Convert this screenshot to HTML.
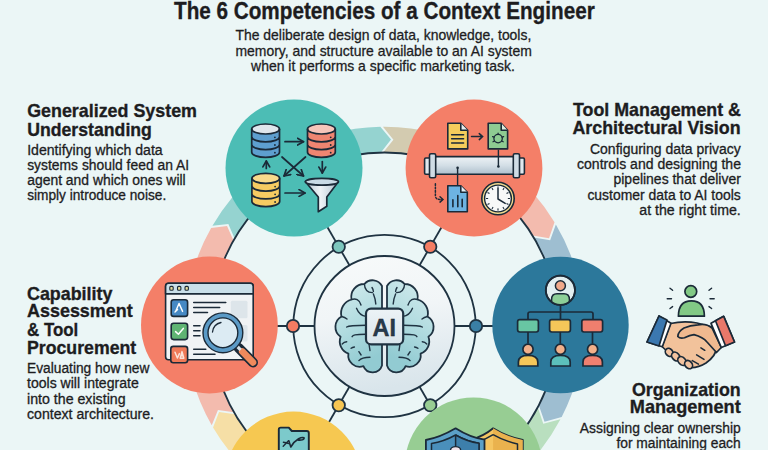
<!DOCTYPE html>
<html><head><meta charset="utf-8">
<style>
html,body{margin:0;padding:0;width:768px;height:450px;overflow:hidden;background:#ebf6f6;}
svg{display:block;}
text{font-family:"Liberation Sans",sans-serif;fill:#1d1d1f;}
.h{font-weight:bold;}
.b text{stroke:#1d1d1f;stroke-width:0.3px;}
.h text, text.h{stroke:#1d1d1f;stroke-width:0.35px;}
</style></head><body>
<svg width="768" height="450" viewBox="0 0 768 450">
<defs>
<linearGradient id="inner" x1="0" y1="0" x2="0.15" y2="1"><stop offset="0" stop-color="#f7fafa"/><stop offset="0.45" stop-color="#f1f5f7"/><stop offset="1" stop-color="#d9e5eb"/></linearGradient>
</defs>
<rect width="768" height="450" fill="#ebf6f6"/>
<!-- bands -->
<path d="M382.94,126.81 A199.2,199.2 0 0 1 484.10,153.49 L471.25,175.74 A173.5,173.5 0 0 0 383.14,152.51 L393.45,139.71 Z" fill="#d3cbb0"/>
<path d="M284.90,153.49 A199.2,199.2 0 0 1 380.33,126.84 L391.01,139.61 L380.87,152.54 A173.5,173.5 0 0 0 297.75,175.74 Z" fill="#95d3d0"/>
<path d="M555.87,224.45 A199.2,199.2 0 0 1 583.70,326.00 L558.00,326.00 A173.5,173.5 0 0 0 533.76,237.55 L550.15,240.32 Z" fill="#9ebed1"/>
<path d="M484.10,153.49 A199.2,199.2 0 0 1 554.53,222.21 L549.02,238.16 L532.59,235.60 A173.5,173.5 0 0 0 471.25,175.74 Z" fill="#f3bbae"/>
<path d="M560.46,419.37 A199.2,199.2 0 0 1 484.10,498.51 L471.25,476.26 A173.5,173.5 0 0 0 537.76,407.32 L543.26,423.86 Z" fill="#b9dfbf"/>
<path d="M583.70,326.00 A199.2,199.2 0 0 1 561.67,417.05 L544.53,421.78 L538.81,405.31 A173.5,173.5 0 0 0 558.00,326.00 Z" fill="#9ebed1"/>
<path d="M387.11,525.18 A199.2,199.2 0 0 1 284.90,498.51 L297.75,476.26 A173.5,173.5 0 0 0 386.77,499.49 L376.20,512.32 Z" fill="#f6dfa6"/>
<path d="M484.10,498.51 A199.2,199.2 0 0 1 389.71,525.13 L378.64,512.41 L389.04,499.44 A173.5,173.5 0 0 0 471.25,476.26 Z" fill="#b9dfbf"/>
<path d="M211.73,425.15 A199.2,199.2 0 0 1 185.30,326.00 L211.00,326.00 A173.5,173.5 0 0 0 234.02,412.36 L217.96,409.94 Z" fill="#f3bbae"/>
<path d="M284.90,498.51 A199.2,199.2 0 0 1 213.04,427.40 L219.07,412.12 L235.16,414.32 A173.5,173.5 0 0 0 297.75,476.26 Z" fill="#f6dfa6"/>
<path d="M212.42,225.65 A199.2,199.2 0 0 1 284.90,153.49 L297.75,175.74 A173.5,173.5 0 0 0 234.62,238.60 L228.35,224.02 Z" fill="#95d3d0"/>
<path d="M185.30,326.00 A199.2,199.2 0 0 1 211.13,227.91 L227.03,226.07 L233.49,240.56 A173.5,173.5 0 0 0 211.00,326.00 Z" fill="#f3bbae"/>
<!-- outer thin ring -->
<circle cx="384.5" cy="326" r="173.5" fill="none" stroke="#1f3342" stroke-width="1.8"/>
<!-- spokes -->
<g stroke="#1f3342" stroke-width="1.8">
<line x1="350.00" y1="266.24" x2="322.00" y2="217.75"/>
<line x1="419.00" y1="266.24" x2="447.00" y2="217.75"/>
<line x1="315.50" y1="326.00" x2="259.50" y2="326.00"/>
<line x1="453.50" y1="326.00" x2="509.50" y2="326.00"/>
<line x1="350.00" y1="385.76" x2="322.00" y2="434.25"/>
<line x1="419.00" y1="385.76" x2="447.00" y2="434.25"/>
</g>
<circle cx="384.5" cy="326" r="91.2" fill="none" stroke="#1f3342" stroke-width="1.8"/>
<circle cx="384.5" cy="326" r="70" fill="url(#inner)" stroke="#1f3342" stroke-width="1.8"/>
<g stroke="#1f3342" stroke-width="1.8">
<circle cx="338.75" cy="246.76" r="6.2" fill="#7cc6bd"/>
<circle cx="430.25" cy="246.76" r="6.2" fill="#f47c62"/>
<circle cx="293.00" cy="326.00" r="6.2" fill="#f47c62"/>
<circle cx="476.00" cy="326.00" r="6.2" fill="#3a7fa5"/>
<circle cx="338.75" cy="405.24" r="6.2" fill="#f6c552"/>
<circle cx="430.25" cy="405.24" r="6.2" fill="#98cd93"/>
</g>
<!-- colored circles -->
<circle cx="294" cy="168" r="68.5" fill="#4cbdb5"/>
<circle cx="474" cy="168" r="68.4" fill="#f47f68"/>
<circle cx="209.4" cy="325" r="68.4" fill="#f47f68"/>
<circle cx="560.5" cy="325" r="68.2" fill="#2c789b"/>
<circle cx="293.5" cy="480" r="68.4" fill="#f6c851"/>
<circle cx="473.5" cy="466" r="68.6" fill="#97cd93"/>


<!-- ICON1 teal circle: databases -->
<defs>
<marker id="ah" viewBox="0 0 10 10" refX="8" refY="5" markerWidth="5" markerHeight="5" orient="auto-start-reverse"><path d="M1,1 L8,5 L1,9" fill="none" stroke="#1b2a38" stroke-width="2" stroke-linecap="round" stroke-linejoin="round"/></marker>
<g id="db">
<path d="M-13.9,0 V23.3 A13.9,5 0 0 0 13.9,23.3 V0 Z" fill="currentColor"/>
<ellipse cx="0" cy="0" rx="13.9" ry="5"/>
<path d="M-13.9,0 V23.3 A13.9,5 0 0 0 13.9,23.3 V0 M-13.9,7.8 A13.9,5 0 0 0 13.9,7.8 M-13.9,15.6 A13.9,5 0 0 0 13.9,15.6" fill="none" stroke="#1b2a38" stroke-width="1.7"/>
<ellipse cx="0" cy="0" rx="13.9" ry="5" fill="none" stroke="#1b2a38" stroke-width="1.7"/>
<circle cx="9.3" cy="8.3" r="0.9" fill="#1b2a38"/><circle cx="9.3" cy="16" r="0.9" fill="#1b2a38"/><circle cx="9.3" cy="23.7" r="0.9" fill="#1b2a38"/>
</g>
<linearGradient id="fun" x1="0" y1="0" x2="1" y2="0"><stop offset="0" stop-color="#b9cad6"/><stop offset="0.45" stop-color="#eef3f6"/><stop offset="1" stop-color="#b4c6d3"/></linearGradient>
</defs>
<use href="#db" x="265.6" y="129" style="color:#5e9fcf" fill="#dfe6ec"/>
<use href="#db" x="321.4" y="129" style="color:#ef8571" fill="#f6c5ba"/>
<use href="#db" x="265.8" y="178.3" style="color:#f6cb62" fill="#f8da8c"/>
<g stroke="#1b2a38" stroke-width="1.7" fill="none" stroke-linecap="round">
<line x1="285" y1="141.7" x2="303.5" y2="141.7" marker-end="url(#ah)"/>
<line x1="322.3" y1="161.5" x2="322.3" y2="173" marker-end="url(#ah)"/>
<line x1="266.3" y1="168.5" x2="266.3" y2="161" marker-end="url(#ah)"/>
<line x1="285" y1="193" x2="305" y2="193" marker-end="url(#ah)"/>
<line x1="282" y1="157" x2="303.5" y2="176" marker-end="url(#ah)"/>
<line x1="305.5" y1="157" x2="284" y2="176" marker-end="url(#ah)"/>
</g>
<path d="M305.4,181.7 L318.3,197 V211.7 L326.8,206.3 V197 L338.3,181.7 Z" fill="url(#fun)" stroke="#1b2a38" stroke-width="1.7" stroke-linejoin="round"/>
<ellipse cx="321.9" cy="181.7" rx="16.5" ry="3.4" fill="#c9dbe6" stroke="#1b2a38" stroke-width="1.7"/>


<!-- ICON2 orange circle: pipeline -->
<defs>
<linearGradient id="pipe" x1="0" y1="0" x2="0" y2="1"><stop offset="0" stop-color="#eef3f6"/><stop offset="0.5" stop-color="#d3dee6"/><stop offset="1" stop-color="#aebfcc"/></linearGradient>
</defs>
<g stroke="#1b2a38" stroke-width="1.6" stroke-linejoin="round">
<path d="M447.8,123.2 H460.8 L467.7,130.2 V148.9 H447.8 Z" fill="#f5cd5c"/>
<path d="M460.8,123.2 V130.2 H467.7" fill="#e8eef0"/>
<path d="M488.2,123.2 H501.2 L507.6,130.2 V148.9 H488.2 Z" fill="#8ecb92"/>
<path d="M501.2,123.2 V130.2 H507.6" fill="#dfeee0"/>
<path d="M447.8,185.8 H460.8 L467.3,192.3 V211.8 H447.8 Z" fill="#6db3e2"/>
<path d="M460.8,185.8 V192.3 H467.3" fill="#e3eef6"/>
</g>
<g stroke="#1b2a38" stroke-width="1.5" fill="none" stroke-linecap="round">
<path d="M451.6,134.8 H463.6 M451.6,138.7 H463.6 M451.6,142.9 H463.6"/>
<path d="M471.5,136.6 H482.5 M479.3,133.6 L482.6,136.6 L479.3,139.6"/>
<circle cx="498.1" cy="138.6" r="4.2" stroke-width="1.3"/>
<path d="M498.1,133.2 V134.4 M492.6,136.6 L494.1,137.2 M503.6,136.6 L502.1,137.2 M493,141.8 L494.4,141 M503.2,141.8 L501.8,141" stroke-width="1.3"/>
<path d="M452.9,206.8 V199.8 M457.8,206.8 V195.6 M462.2,206.8 V199.2" stroke-width="1.6"/>
<path d="M435.4,183.8 V195.5 Q435.4,199.4 439.5,199.4 H442.6" stroke-dasharray="1.6 1.8"/>
<path d="M440,196.7 L442.9,199.4 L440,202.1"/>
</g>
<!-- pipe -->
<g stroke="#1b2a38" stroke-width="1.6">
<rect x="434.5" y="156.6" width="80" height="17.7" rx="2" fill="url(#pipe)"/>
<rect x="424.6" y="158" width="5.6" height="16.2" rx="1.2" fill="#dfe8ee"/>
<rect x="518.8" y="158" width="5.6" height="16.2" rx="1.2" fill="#dfe8ee"/>
<rect x="429.5" y="153.8" width="6.2" height="24" rx="1.5" fill="#cfdce5"/>
<rect x="513.3" y="153.8" width="6.2" height="24" rx="1.5" fill="#cfdce5"/>
</g>
<path d="M498.4,149.7 V166.4 M457.6,168 V185.5" stroke="#1b2a38" stroke-width="1.4"/>
<circle cx="498.4" cy="166.5" r="1.3" fill="#1b2a38"/>
<circle cx="457.6" cy="167.8" r="1.3" fill="#1b2a38"/>
<!-- clock -->
<circle cx="498" cy="198.5" r="16.2" fill="#f2d98e" stroke="#1b2a38" stroke-width="1.6"/>
<circle cx="498" cy="198.5" r="13.4" fill="#f7f8f8" stroke="#1b2a38" stroke-width="1.4"/>
<g stroke="#1b2a38" stroke-width="1.1" stroke-linecap="round">
<line x1="498.00" y1="188.20" x2="498.00" y2="186.90"/>
<line x1="503.15" y1="189.58" x2="503.80" y2="188.45"/>
<line x1="506.92" y1="193.35" x2="508.05" y2="192.70"/>
<line x1="508.30" y1="198.50" x2="509.60" y2="198.50"/>
<line x1="506.92" y1="203.65" x2="508.05" y2="204.30"/>
<line x1="503.15" y1="207.42" x2="503.80" y2="208.55"/>
<line x1="498.00" y1="208.80" x2="498.00" y2="210.10"/>
<line x1="492.85" y1="207.42" x2="492.20" y2="208.55"/>
<line x1="489.08" y1="203.65" x2="487.95" y2="204.30"/>
<line x1="487.70" y1="198.50" x2="486.40" y2="198.50"/>
<line x1="489.08" y1="193.35" x2="487.95" y2="192.70"/>
<line x1="492.85" y1="189.58" x2="492.20" y2="188.45"/>
</g>
<path d="M498,188.8 V199 L505.2,203.4" fill="none" stroke="#1b2a38" stroke-width="1.5" stroke-linecap="round" stroke-linejoin="round"/>


<!-- ICON3 coral circle: browser + magnifier -->
<g stroke="#1b2a38" stroke-width="1.6" stroke-linejoin="round">
<rect x="165.6" y="283.2" width="87.6" height="76.6" rx="3" fill="#f0f3f5"/>
<path d="M165.6,293.9 V286.2 Q165.6,283.2 168.6,283.2 H250.2 Q253.2,283.2 253.2,286.2 V293.9 Z" fill="#c9dfe9"/>
<rect x="169.8" y="286.4" width="3.4" height="3.8" rx="1" fill="#e6dc9c" stroke-width="1.1"/>
<rect x="177.5" y="286.4" width="3.4" height="3.8" rx="1" fill="#e6dc9c" stroke-width="1.1"/>
<rect x="185" y="286.4" width="3.4" height="3.8" rx="1" fill="#e6dc9c" stroke-width="1.1"/>
<rect x="171.2" y="299.8" width="16.4" height="16.6" rx="2.5" fill="#4689c4"/>
<rect x="171.2" y="323.2" width="16.4" height="16.4" rx="2.5" fill="#5fb473"/>
<rect x="170.8" y="346.4" width="16.8" height="16.4" rx="2.5" fill="#ef7a58"/>
</g>
<g fill="none" stroke="#ffffff" stroke-width="1.5" stroke-linecap="round" stroke-linejoin="round">
<path d="M175.6,311.6 L179,303.4 L182.6,311.4 M175,312 L177.6,309.6" stroke-width="1.4"/>
<path d="M175.6,331.6 L178.4,334.2 L183.3,328.4"/>
<path d="M175,352.2 L177.4,358 L179.4,353.6 M180.2,358.2 L182,351.6 L183.8,358.2 Z M181,355.8 H183" stroke="#fbe2d8" stroke-width="1.5"/>
</g>
<rect x="230.8" y="300.8" width="16.7" height="17.5" rx="1.5" fill="#dde5ea"/>
<rect x="238" y="325" width="9.5" height="16.5" rx="1.5" fill="#dde5ea"/>
<g stroke="#1b2a38" stroke-width="1.5" stroke-linecap="round">
<path d="M193.7,302.6 H225.8 M193.7,307.6 H219.7 M193.7,312.6 H207.5 M193.7,325.8 H200 M193.7,330.8 H200 M193.7,335.8 H200 M193.7,349.2 H205.8 M193.7,354.2 H215"/>
</g>
<!-- magnifier -->
<path d="M238.5,347.7 L253,362.4" stroke="#1b2a38" stroke-width="10" stroke-linecap="round"/>
<path d="M242.2,351.4 L253,362.4" stroke="#ef8a5c" stroke-width="6.6" stroke-linecap="round"/>
<path d="M236.8,346 L240.6,349.8" stroke="#d9e4ea" stroke-width="3.2" />
<circle cx="222.9" cy="332.8" r="17.4" fill="#dcebf3" stroke="#1b2a38" stroke-width="6.4"/>
<circle cx="222.9" cy="332.8" r="17.4" fill="none" stroke="#5b9ac6" stroke-width="3.6"/>
<path d="M212.5,332 A11,11 0 0 1 221,322.5" fill="none" stroke="#1b2a38" stroke-width="1.3" stroke-linecap="round"/>


<!-- ICON4 blue circle: org chart -->
<defs><clipPath id="avc"><circle cx="560.4" cy="290.2" r="14.6"/></clipPath></defs>
<g stroke="#1b2a38" stroke-width="1.7" fill="none" stroke-linejoin="round">
<path d="M560.5,305.6 V312 M528,319.3 V314 Q528,312 530,312 H591 Q593,312 593,314 V319.3 M560.5,312 V319.3 M528,332 V343.5 M560.3,332 V343.5 M592.5,332 V343.5"/>
</g>
<circle cx="560.4" cy="290.2" r="14.6" fill="#e2eef0" stroke="#1b2a38" stroke-width="1.8"/>
<g clip-path="url(#avc)" stroke="#1b2a38" stroke-width="1.5">
<path d="M551.6,306 V299.5 Q551.6,293.8 557,293.8 H564 Q569.4,293.8 569.4,299.5 V306 Z" fill="#8dcf98"/>
</g>
<circle cx="560.4" cy="290.2" r="14.6" fill="none" stroke="#1b2a38" stroke-width="1.8"/>
<circle cx="560.4" cy="285.8" r="5" fill="#f0a88a" stroke="#1b2a38" stroke-width="1.5"/>
<g stroke="#1b2a38" stroke-width="1.7">
<rect x="517.6" y="319.6" width="20.8" height="12.4" rx="2.2" fill="#68c6a3"/>
<rect x="549.6" y="319.6" width="20.8" height="12.4" rx="2.2" fill="#f5c659"/>
<rect x="581.8" y="319.6" width="20.8" height="12.4" rx="2.2" fill="#ef7f6e"/>
<path d="M518.4,366 V362 Q518.4,355.3 528,355.3 Q537.8,355.3 537.8,362 V366 Z" fill="#f5c659"/>
<path d="M550.8,366 V362 Q550.8,355.3 560.4,355.3 Q570.2,355.3 570.2,362 V366 Z" fill="#5cc0bb"/>
<path d="M583,366 V362 Q583,355.3 592.6,355.3 Q602.4,355.3 602.4,362 V366 Z" fill="#ef8070"/>
<circle cx="528" cy="349.2" r="5.1" fill="#f2b08a"/>
<circle cx="560.4" cy="349.2" r="5.1" fill="#f2b08a"/>
<circle cx="592.6" cy="349.2" r="5.1" fill="#f2b08a"/>
</g>


<!-- ICON5 yellow circle: folder -->
<path d="M278.8,452 V429.5 Q278.8,427.6 280.7,427.6 H288.8 L291.8,431 H306.8 Q308.8,431 308.8,433 V452 Z" fill="#7ccacb" stroke="#1b2a38" stroke-width="1.9" stroke-linejoin="round"/>
<g fill="none" stroke="#1b2a38" stroke-width="1.4" stroke-linecap="round" stroke-linejoin="round">
<path d="M283.4,442.3 Q286,442.6 288.6,443.6 M283.2,446.2 Q286,443.5 288.5,440.8"/>
<path d="M288.8,440.8 Q289.8,444 290.8,447 Q294,441.5 298.6,438.8 Q302,437 304,437.8 Q304.4,439.2 302.4,439.8 Q300,440.4 297.8,440" stroke-width="1.6"/>
</g>
<!-- ICON6 green circle: shields -->
<g stroke="#1b2a38" stroke-width="1.8" stroke-linejoin="round">
<path d="M493.1,428.3 Q484,436 471,439.8 L471,452 H522.8 V440 Q505,436 493.1,428.3 Z" fill="#f5c562"/>
<path d="M493.1,428.3 Q505,436 522.8,440 V452 H493.1 Z" fill="#eab24e" stroke="none"/>
<path d="M493.1,434.6 Q503,440.5 517.5,444 V452 M493.1,434.6 Q486,439 478,442" fill="none" stroke-width="1.5"/>
<path d="M455.6,428.3 Q440,437.5 425.9,440 V452 H484.5 V439.7 Q470,437.5 455.6,428.3 Z" fill="#5ba0c8"/>
<path d="M455.6,435 Q444,441.5 431.5,443.5 V452 H479 V443.3 Q467,441.5 455.6,435 Z" fill="#4a8fbb" stroke-width="1.5"/>
<path d="M455.6,435 Q467,441.5 479,443.3 V452 H455.6 Z" fill="#3d7fab" stroke="none"/>
<path d="M455.6,435 Q467,441.5 479,443.3 V452 M455.6,435 V452" fill="none" stroke-width="1.5"/>
<ellipse cx="455.6" cy="449.8" rx="5" ry="3.2" fill="#f3e4ea" stroke-width="1.4"/>
</g>


<!-- BRAIN -->
<defs>
<linearGradient id="brainG" x1="0" y1="0" x2="0.3" y2="1"><stop offset="0" stop-color="#d6ecee"/><stop offset="0.55" stop-color="#b2dce0"/><stop offset="1" stop-color="#92cbd2"/></linearGradient>
<linearGradient id="aiG" x1="0" y1="0" x2="0" y2="1"><stop offset="0" stop-color="#edf3f6"/><stop offset="1" stop-color="#d9e5ec"/></linearGradient>
<g id="hemi">
<path d="M382,286 A10.7,10.7 0 0 0 364.4,284 A13,13 0 0 0 351.5,299.5 A14,14 0 0 0 341.5,316.5 A12,12 0 0 0 340.6,336.8 A13,13 0 0 0 348.4,353.6 A11.5,11.5 0 0 0 363.4,366.2 A9.9,9.9 0 0 0 382,365.5 Z" fill="url(#brainG)" stroke="#1f3342" stroke-width="1.8" stroke-linejoin="round"/>
<g fill="none" stroke="#1f3342" stroke-width="1.4" stroke-linecap="round">
<path d="M364.4,284 C364.6,289 367.5,292.5 372.4,292.6"/>
<path d="M372,287.5 Q373.3,289.5 373.4,291.5"/>
<path d="M373.4,294 Q375.5,299 375.8,304"/>
<path d="M351.5,299.5 C355.5,298 359.5,299.5 361,305"/>
<path d="M356.5,308.3 C358,312 361.5,316 366,316.4"/>
<path d="M341.5,316.5 C343.5,317 345.5,317.8 347,319"/>
<path d="M346.7,327 C348.5,325.8 351,325.3 366,325.3"/>
<path d="M352.1,336.7 C353,335 354.5,334.2 366,334.2"/>
<path d="M342.2,343.9 C343.5,342.5 345,341.8 346.7,341.7"/>
<path d="M351.1,348.3 Q352.5,347.2 354.4,347"/>
<path d="M358.9,351.7 L361.1,355"/>
<path d="M358.9,360.6 C360.5,358.8 364,357.3 370,357.2"/>
<path d="M369,344 L370,350.6"/>
</g>
</g>
</defs>
<use href="#hemi"/>
<use href="#hemi" transform="translate(769,0) scale(-1,1)"/>


<!-- HANDSHAKE -->
<g stroke="#1b2a38" stroke-linecap="round" stroke-linejoin="round">
<!-- person -->
<path d="M678.4,316.2 C678.4,305.5 683.5,300.8 691.4,300.8 C699.3,300.8 704.4,305.5 704.4,316.2 Z" fill="#82c985" stroke-width="1.7"/>
<circle cx="690.8" cy="291.5" r="5.9" fill="#82c985" stroke-width="1.7"/>
<g stroke-width="1.4" fill="none">
<path d="M670,288.3 L672.6,290.3 M667.2,298.8 H671.5 M670,308.5 L672.6,306.6 M711.6,288.3 L709,290.3 M714.2,298.8 H710 M711.6,308.5 L709,306.6"/>
</g>
<!-- back hand (left) -->
<path d="M670.5,323.5 Q684,320.5 697,323 L712,327 Q716,335 717.5,346 Q716,356 706,363 Q698,368 690,367.5 L672,356 L662,346.5 Z" fill="#f2c29b" stroke-width="1.7"/>
<!-- fingers -->
<g fill="#f3c3a0" stroke-width="1.7">
<ellipse cx="669.2" cy="352.4" rx="4.4" ry="3.5" transform="rotate(50 669.2 352.4)"/>
<ellipse cx="675.8" cy="356.6" rx="4.9" ry="3.6" transform="rotate(50 675.8 356.6)"/>
<ellipse cx="682" cy="361" rx="4.9" ry="3.6" transform="rotate(50 682 361)"/>
<ellipse cx="688.6" cy="364.6" rx="4.5" ry="3.5" transform="rotate(50 688.6 364.6)"/>
</g>
<!-- front hand (right) -->
<path d="M721.3,347.5 L712,328 Q706,323 698,324.9 Q690,325.5 684,328 Q678,331.5 677.8,336.5 Q680,339 684.5,337.8 Q690,335 694,334.6 Q703,337 707,342 L716.5,352.5 Z" fill="#f0b98f" stroke-width="1.7"/>
<path d="M700.9,347.8 L704.8,350.3 M696.6,354.8 L704,359.4 M692.3,360.6 L698.5,364.1" stroke-width="1.5" fill="none"/>
<!-- cuffs -->
<path d="M659,316 L671,323.3 L662.3,346.7 L647,342 Z" fill="#ffffff" stroke-width="1.7"/>
<path d="M659,316 L667,320 L659,346 L647,342 Z" fill="#3b78b0" stroke-width="1.7"/>
<path d="M711,323.3 L723.7,316.3 L734.5,342 L721.3,347.5 Z" fill="#ffffff" stroke-width="1.7"/>
<path d="M715.5,320.8 L723.7,316.3 L734.5,342 L725.5,345.7 Z" fill="#e9786a" stroke-width="1.7"/>
</g>

<!-- AI box -->
<rect x="366" y="308.6" width="37.2" height="35.7" rx="5" fill="url(#aiG)" stroke="#1f3342" stroke-width="2.2"/>
<text class="h" x="372.6" y="335.6" font-size="23.5" textLength="23.4" lengthAdjust="spacingAndGlyphs" style="fill:#263b4e">AI</text>

<!-- text -->
<text class="h" x="174" y="18.7" font-size="24" textLength="420.7" lengthAdjust="spacingAndGlyphs">The 6 Competencies of a Context Engineer</text>
<g font-size="15" class="b">
<text x="235.5" y="39.6" textLength="295.8" lengthAdjust="spacingAndGlyphs">The deliberate design of data, knowledge, tools,</text>
<text x="235.5" y="55.5" textLength="296.3" lengthAdjust="spacingAndGlyphs">memory, and structure available to an AI system</text>
<text x="251.1" y="70.5" textLength="263.7" lengthAdjust="spacingAndGlyphs">when it performs a specific marketing task.</text>
</g>

<g class="h" font-size="19" font-weight="bold">
<text x="27.2" y="116.6" textLength="169.8" lengthAdjust="spacingAndGlyphs">Generalized System</text>
<text x="27.2" y="135.8" textLength="124.7" lengthAdjust="spacingAndGlyphs">Understanding</text>
<text x="741" y="116.2" text-anchor="end" textLength="168" lengthAdjust="spacingAndGlyphs">Tool Management &amp;</text>
<text x="740.6" y="134.4" text-anchor="end" textLength="168.2" lengthAdjust="spacingAndGlyphs">Architectural Vision</text>
<text x="27" y="299.5" textLength="85.4" lengthAdjust="spacingAndGlyphs">Capability</text>
<text x="27" y="317.3" textLength="105.7" lengthAdjust="spacingAndGlyphs">Assessment</text>
<text x="27" y="335.8" textLength="51.3" lengthAdjust="spacingAndGlyphs">&amp; Tool</text>
<text x="27" y="353.6" textLength="109.2" lengthAdjust="spacingAndGlyphs">Procurement</text>
<text x="631.9" y="395.8" textLength="108.8" lengthAdjust="spacingAndGlyphs">Organization</text>
<text x="629.8" y="412.5" textLength="110.9" lengthAdjust="spacingAndGlyphs">Management</text>
</g>
<g font-size="14" class="b">
<text x="27.2" y="155.3" textLength="135.5" lengthAdjust="spacingAndGlyphs">Identifying which data</text>
<text x="27.2" y="170.2" textLength="161.9" lengthAdjust="spacingAndGlyphs">systems should feed an AI</text>
<text x="27.2" y="185.4" textLength="158.5" lengthAdjust="spacingAndGlyphs">agent and which ones will</text>
<text x="27.2" y="200.3" textLength="139" lengthAdjust="spacingAndGlyphs">simply introduce noise.</text>

<text x="740.8" y="154.2" text-anchor="end" textLength="150.8" lengthAdjust="spacingAndGlyphs">Configuring data privacy</text>
<text x="741" y="169.3" text-anchor="end" textLength="164" lengthAdjust="spacingAndGlyphs">controls and designing the</text>
<text x="740.8" y="184.4" text-anchor="end" textLength="127.3" lengthAdjust="spacingAndGlyphs">pipelines that deliver</text>
<text x="740.8" y="199.5" text-anchor="end" textLength="153.4" lengthAdjust="spacingAndGlyphs">customer data to AI tools</text>
<text x="740.8" y="214.7" text-anchor="end" textLength="101.5" lengthAdjust="spacingAndGlyphs">at the right time.</text>

<text x="27" y="373" textLength="122.4" lengthAdjust="spacingAndGlyphs">Evaluating how new</text>
<text x="27" y="388.4" textLength="111.7" lengthAdjust="spacingAndGlyphs">tools will integrate</text>
<text x="27" y="404.4" textLength="98.6" lengthAdjust="spacingAndGlyphs">into the existing</text>
<text x="27" y="418.6" textLength="127" lengthAdjust="spacingAndGlyphs">context architecture.</text>

<text x="579.8" y="433.2" textLength="160.9" lengthAdjust="spacingAndGlyphs">Assigning clear ownership</text>
<text x="616.4" y="447.9" textLength="124.3" lengthAdjust="spacingAndGlyphs">for maintaining each</text>
</g>
</svg>
</body></html>
